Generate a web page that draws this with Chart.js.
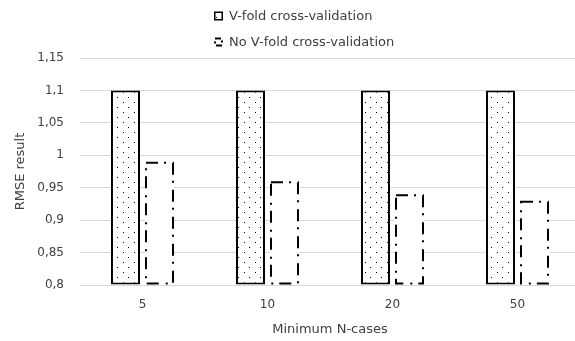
<!DOCTYPE html>
<html lang="en">
<head>
  <meta charset="UTF-8" />
  <title>RMSE result by minimum N-cases</title>
  <script src="https://cdn.jsdelivr.net/npm/chart.js"></script>
  <style>
    html, body {
      margin: 0;
      padding: 0;
      background: #fff;
      overflow: hidden;
    }
    #wrap {
      width: 582px;
      height: 341px;
    }
  </style>
</head>
<body>
  <div id="wrap"><canvas id="rmseChart"></canvas></div>

  <script>
    const categories = ['5', '10', '20', '50'];
    const vfoldValues = [1.1, 1.1, 1.1, 1.1];
    const noVfoldValues = [0.99, 0.96, 0.94, 0.93];
    const seriesNames = ['V-fold cross-validation', 'No V-fold cross-validation'];
    const yMin = 0.8;
    const yMax = 1.15;
    const yStep = 0.05;

    const textColor = '#404040';
    const gridColor = '#d9d9d9';
    const dashDot = [12, 6, 2, 7];

    Chart.defaults.font.family = "'DejaVu Sans', sans-serif";
    Chart.defaults.color = textColor;

    const ctx = document.getElementById('rmseChart').getContext('2d');

    // small dotted tile for the first series
    function dotPattern() {
      const tile = document.createElement('canvas');
      tile.width = 11;
      tile.height = 10;
      const t = tile.getContext('2d');
      t.fillStyle = '#fff';
      t.fillRect(0, 0, 11, 10);
      t.fillStyle = '#000';
      t.fillRect(2, 2, 1, 1);
      t.fillRect(7, 7, 1, 1);
      return ctx.createPattern(tile, 'repeat');
    }
    const dots = dotPattern();

    // bars of the second series get a dash-dot outline
    const dashedBars = {
      id: 'dashedBars',
      afterDatasetsDraw(chart) {
        const meta = chart.getDatasetMeta(1);
        if (meta.hidden) return;
        const c = chart.ctx;
        const bottom = chart.chartArea.bottom;
        c.save();
        c.strokeStyle = '#000';
        c.lineWidth = 2;
        c.setLineDash(dashDot);
        meta.data.forEach(bar => {
          const p = bar.getProps(['x', 'y', 'base', 'width'], true);
          const base = Math.min(p.base, bottom);
          const h = c.lineWidth / 2;
          c.strokeRect(p.x - p.width / 2 + h, p.y + h, p.width - 2 * h, base - p.y - 2 * h);
        });
        c.restore();
      }
    };

    // legend with the two entries stacked and left aligned
    const stackedLegend = {
      id: 'stackedLegend',
      afterDraw(chart) {
        const c = chart.ctx;
        const left = 214;
        const rows = [16, 42];
        c.save();
        c.font = "13px 'DejaVu Sans', sans-serif";
        c.textBaseline = 'middle';
        chart.data.datasets.forEach((ds, i) => {
          const y = rows[i];
          if (i === 0) {
            c.fillStyle = dots;
            c.fillRect(left, y - 4.5, 9, 9);
            c.strokeStyle = '#000';
            c.lineWidth = 1.5;
            c.strokeRect(left + 0.75, y - 3.75, 7.5, 7.5);
          } else {
            c.fillStyle = '#fff';
            c.fillRect(left, y - 4.5, 9, 9);
            c.strokeStyle = '#000';
            c.lineWidth = 2;
            c.setLineDash([6, 3, 2, 3]);
            c.strokeRect(left + 1, y - 3.5, 7, 7);
            c.setLineDash([]);
          }
          c.fillStyle = textColor;
          c.fillText(ds.label, left + 15, y + 0.5);
        });
        c.restore();
      }
    };

    new Chart(ctx, {
      type: 'bar',
      data: {
        labels: categories,
        datasets: [
          {
            label: seriesNames[0],
            data: vfoldValues,
            base: yMin,
            backgroundColor: dots,
            borderColor: '#000',
            borderWidth: 2,
            borderSkipped: false
          },
          {
            label: seriesNames[1],
            data: noVfoldValues,
            base: yMin,
            backgroundColor: '#fff',
            borderWidth: 0
          }
        ]
      },
      options: {
        responsive: true,
        maintainAspectRatio: false,
        animation: false,
        categoryPercentage: 0.544,
        barPercentage: 0.853,
        layout: {
          padding: { top: 58, left: 0, right: 2, bottom: 0 }
        },
        plugins: {
          legend: { display: false },
          tooltip: { enabled: false }
        },
        scales: {
          x: {
            grid: { display: false },
            border: { display: false },
            ticks: { color: textColor, font: { size: 12 }, padding: 5 },
            title: {
              display: true,
              text: 'Minimum N-cases',
              color: textColor,
              font: { size: 13 },
              padding: { top: 4, bottom: 4 }
            },
            afterFit(scale) { scale.height = 56; }
          },
          y: {
            min: yMin,
            max: yMax,
            grid: { color: gridColor, drawTicks: false },
            border: { display: false },
            ticks: {
              stepSize: yStep,
              color: textColor,
              font: { size: 12 },
              padding: 16,
              callback: v => String(Number(v.toFixed(2))).replace('.', ',')
            },
            title: {
              display: true,
              text: 'RMSE result',
              color: textColor,
              font: { size: 13 },
              padding: { top: 13, bottom: 13 }
            },
            afterFit(scale) { scale.width = 80; }
          }
        }
      },
      plugins: [dashedBars, stackedLegend]
    });
  </script>
</body>
</html>
